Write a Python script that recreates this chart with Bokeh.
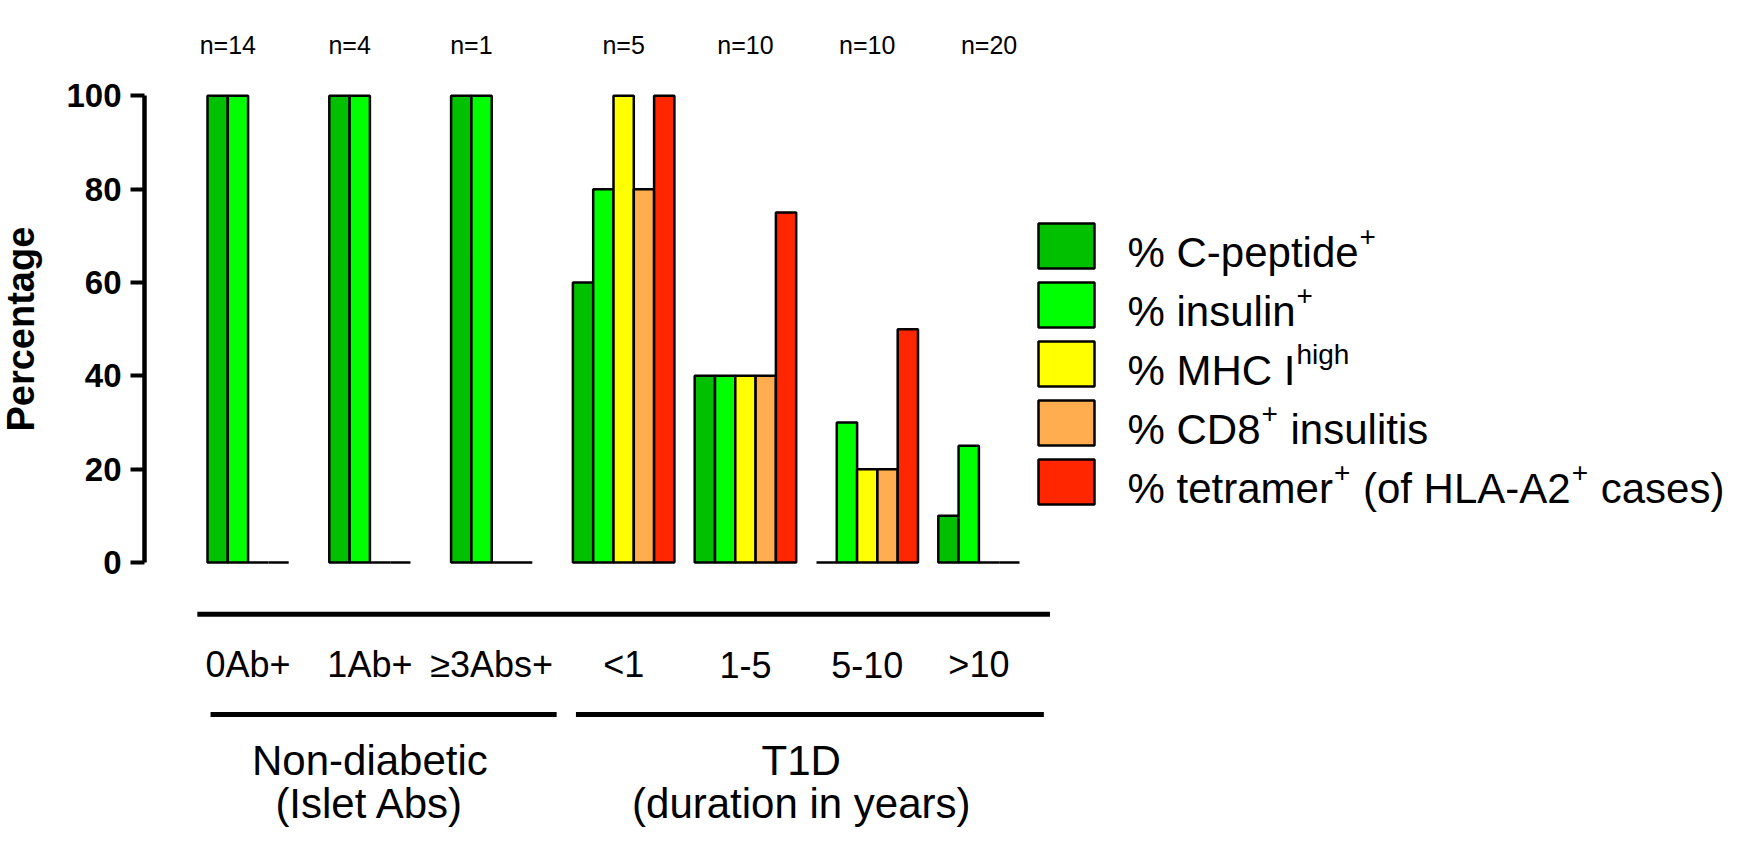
import math
from bokeh.plotting import figure
from bokeh.layouts import row
from bokeh.models import ColumnDataSource, FixedTicker, Range1d
from bokeh.core.properties import value
from bokeh.embed import file_html
from bokeh.resources import INLINE

# ---------------- data ----------------
groups = ["0Ab+", "1Ab+", "\u22653Abs+", "<1", "1-5", "5-10", ">10"]
n_labels = ["n=14", "n=4", "n=1", "n=5", "n=10", "n=10", "n=20"]
sections = ["Non-diabetic", "T1D"]
section_sub = ["(Islet Abs)", "(duration in years)"]
section_groups = [[0, 1, 2], [3, 4, 5, 6]]

c_peptide = [100, 100, 100, 60, 40, 0, 10]
insulin = [100, 100, 100, 80, 40, 30, 25]
mhc_high = [0, 0, 0, 100, 40, 20, 0]
cd8_insulitis = [0, 0, 0, 80, 40, 20, 0]
tetramer = [None, None, None, 100, 75, 50, None]

series_values = [c_peptide, insulin, mhc_high, cd8_insulitis, tetramer]
series_colors = ["#00C000", "#00FF00", "#FFFF00", "#FFAD4F", "#FF2600"]
legend_parts = [
    [("% C-peptide", False), ("+", True)],
    [("% insulin", False), ("+", True)],
    [("% MHC I", False), ("high", True)],
    [("% CD8", False), ("+", True), (" insulitis", False)],
    [("% tetramer", False), ("+", True), (" (of HLA-A2", False), ("+", True), (" cases)", False)],
]
y_ticks = [0, 20, 40, 60, 80, 100]
y_title = "Percentage"

# ---------------- layout constants ----------------
FONT = "Liberation Sans"
SLOTS = 6            # 5 bars + 1 gap per group
W, H = 1736, 828
LW = 60              # width of the strip holding the y title
LEFT = 144
PX_X = 20.3          # pixels per x unit
PX_Y = 4.667         # pixels per y unit
x0 = (LEFT + 8 - 215) / PX_X
x1 = x0 + (W - LEFT) / PX_X
y1 = 100 + (103.3 - 8) / PX_Y
y0 = y1 - H / PX_Y
yr = Range1d(y0, y1)

# strip with the rotated y title
t = figure(width=LW, height=H, output_backend="svg", toolbar_location=None,
           x_range=Range1d(0, LW), y_range=yr, x_axis_location=None,
           y_axis_location=None, min_border=0, outline_line_color=None)
t.grid.visible = False
t.text(x=[20], y=[50], text=[y_title], angle=math.pi / 2, text_align="center",
       text_baseline="middle", text_font=value(FONT), text_font_size="38px",
       text_font_style="bold", text_color="black")

p = figure(width=W - LW, height=H, output_backend="svg", toolbar_location=None,
           x_range=Range1d(x0, x1), y_range=yr,
           x_axis_location=None, min_border_left=LEFT - LW, min_border_right=0,
           min_border_top=0, min_border_bottom=0, outline_line_color=None,
           background_fill_color="white", border_fill_color="white")
p.xgrid.visible = False
p.ygrid.visible = False

ax = p.yaxis[0]
ax.ticker = FixedTicker(ticks=y_ticks)
ax.bounds = (0, 100)
ax.axis_line_width = 4.5
ax.axis_line_color = "black"
ax.major_tick_line_width = 4
ax.major_tick_out = 14
ax.major_tick_in = 0
ax.minor_tick_line_color = None
ax.major_label_standoff = 9
ax.major_label_text_font = FONT
ax.major_label_text_font_style = "bold"
ax.major_label_text_font_size = "33px"
ax.major_label_text_color = "black"

# bars
bx, btop, bcol = [], [], []
for s, vals in enumerate(series_values):
    for g, v in enumerate(vals):
        if v is None:
            continue
        bx.append(SLOTS * g + s + 0.5)
        btop.append(v)
        bcol.append(series_colors[s])
p.vbar(x="x", top="top", bottom=0, width=1, fill_color="color",
       line_color="black", line_width=2.5,
       source=ColumnDataSource(dict(x=bx, top=btop, color=bcol)))

# group centres
nvis = [sum(1 for vals in series_values if vals[g] is not None) for g in range(len(groups))]
cat_x = [SLOTS * g + nvis[g] / 2 for g in range(len(groups))]
n_x = [SLOTS * g + (1 if nvis[g] < 5 and g < 3 else 2.5) for g in range(len(groups))]

p.text(x=n_x, y=[110.9] * len(groups), text=n_labels, text_font=value(FONT),
       text_font_size="25px", text_align="center", text_baseline="middle",
       text_color="black")
p.text(x=cat_x, y=[-21.86] * len(groups), text=groups, text_font=value(FONT),
       text_font_size="36px", text_align="center", text_baseline="middle",
       text_color="black")

# bracket lines
last = len(groups) - 1
p.segment(x0=[-0.5], x1=[SLOTS * last + 5.5], y0=[-11.08], y1=[-11.08],
          line_width=5, line_color="black")
sx0 = [SLOTS * sg[0] + 0.15 for sg in section_groups]
sx1 = [SLOTS * sg[-1] + 5.2 for sg in section_groups]
p.segment(x0=sx0, x1=sx1, y0=[-32.57] * 2, y1=[-32.57] * 2,
          line_width=5, line_color="black")
sec_x = [(cat_x[sg[0]] + cat_x[sg[-1]]) / 2 for sg in section_groups]
p.text(x=sec_x, y=[-42.5] * 2, text=sections, text_font=value(FONT),
       text_font_size="42px", text_align="center", text_baseline="middle",
       text_color="black")
p.text(x=sec_x, y=[-51.6] * 2, text=section_sub, text_font=value(FONT),
       text_font_size="42px", text_align="center", text_baseline="middle",
       text_color="black")

# legend (manual, to allow superscripts)
ARIAL = {' ': 278, '%': 889, 'C': 722, '-': 333, 'p': 556, 'e': 556, 't': 278, 'i': 222,
         'd': 556, 'n': 556, 's': 500, 'u': 556, 'l': 222, 'M': 833, 'H': 722, 'I': 278,
         'D': 722, '8': 556, 'r': 333, 'm': 833, 'a': 556, '(': 333, ')': 333, 'o': 556,
         'f': 278, 'L': 556, 'A': 667, '2': 556, 'c': 500, '+': 584, 'h': 556, 'g': 556}


def text_w(txt, size):
    return sum(ARIAL.get(ch, 556) for ch in txt) * size / 1000.0


LEG_X = (1074 - 215) / PX_X
LEG_Y0 = 100 - (253.4 - 103.3) / PX_Y
LEG_STEP = 59.0 / PX_Y
MAIN_SZ, SUP_SZ = 42, 28
leg_y = [LEG_Y0 - i * LEG_STEP for i in range(len(series_colors))]
p.rect(x=[LEG_X] * len(series_colors), y=leg_y, width=56, height=45,
       width_units="screen", height_units="screen", fill_color=series_colors,
       line_color="black", line_width=2.5)

main_t, main_x, main_y, main_off = [], [], [], []
sup_t, sup_x, sup_y, sup_off = [], [], [], []
for i, parts in enumerate(legend_parts):
    off = 61.0
    for txt, sup in parts:
        size = SUP_SZ if sup else MAIN_SZ
        lead = len(txt) - len(txt.lstrip(' '))
        off += text_w(' ' * lead, size)
        body = txt.lstrip(' ')
        if sup:
            sup_t.append(body); sup_x.append(LEG_X); sup_y.append(leg_y[i]); sup_off.append(off + 1)
        else:
            main_t.append(body); main_x.append(LEG_X); main_y.append(leg_y[i]); main_off.append(off)
        off += text_w(body, size) + (2 if sup else 0)

p.text(x="x", y="y", text="t", x_offset="o", y_offset=7, text_font=value(FONT),
       text_font_size=f"{MAIN_SZ}px", text_baseline="middle", text_align="left",
       text_color="black",
       source=ColumnDataSource(dict(x=main_x, y=main_y, t=main_t, o=main_off)))
p.text(x="x", y="y", text="t", x_offset="o", y_offset=-9, text_font=value(FONT),
       text_font_size=f"{SUP_SZ}px", text_baseline="middle", text_align="left",
       text_color="black",
       source=ColumnDataSource(dict(x=sup_x, y=sup_y, t=sup_t, o=sup_off)))

layout = row(t, p)
open("out.html", "w").write(file_html(layout, INLINE))
